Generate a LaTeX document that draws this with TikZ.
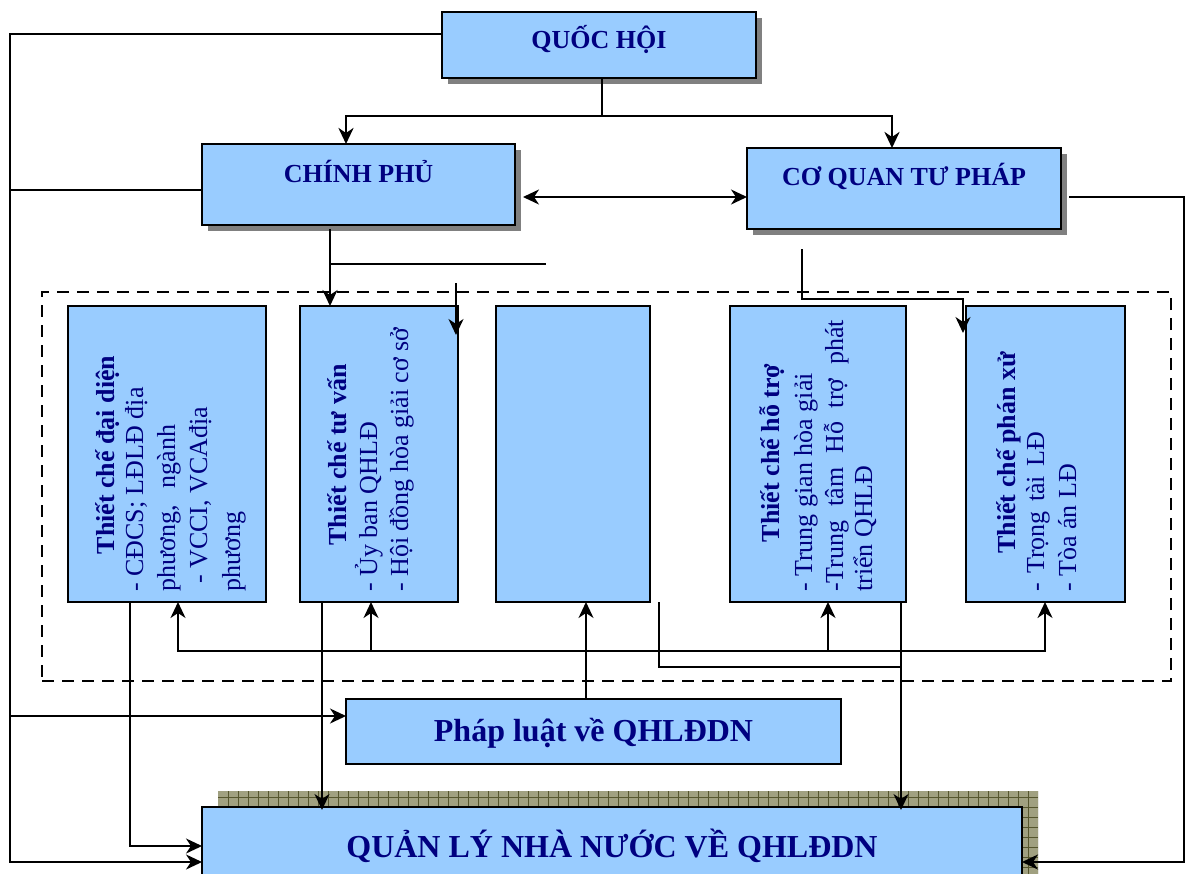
\documentclass[tikz,border=0pt]{standalone}
\usepackage{fontspec}
\setmainfont{Liberation Serif}
\usetikzlibrary{arrows.meta,calc}
\definecolor{navy}{RGB}{0,0,128}
\definecolor{boxblue}{RGB}{153,204,255}
\definecolor{shd}{RGB}{128,128,128}
\definecolor{hatchbg}{RGB}{160,160,128}
\definecolor{hatchln}{RGB}{85,85,45}
\begin{document}
\begin{tikzpicture}[x=1pt,y=-1pt,
  >={Stealth[length=16pt,width=15pt,inset=5pt]},
  box/.style={draw=black, fill=boxblue, line width=2pt, inner sep=0pt, outer sep=0pt, anchor=north west},
  topbox/.style={box, line width=2.6pt, preaction={fill=shd, transform canvas={shift={(6pt,-6pt)}}}},
  ttl/.style={text=navy, font=\bfseries\fontsize{26}{30}\selectfont, inner sep=0pt, anchor=base},
  bigttl/.style={ttl, font=\bfseries\fontsize{32}{36}\selectfont},
  rt/.style={rotate=90, text=navy, font=\fontsize{26}{32}\selectfont, inner sep=0pt, anchor=base west},
  rtt/.style={rt, font=\bfseries\fontsize{26}{32}\selectfont, anchor=base},
  ln/.style={draw=black, line width=2.2pt},
  thk/.style={draw=black, line width=2.8pt},
  thn/.style={draw=black, line width=1.7pt},
  grpframe/.style={draw=black, line width=2.2pt, dash pattern=on 12pt off 8pt, inner sep=0pt, outer sep=0pt, anchor=north west}
]
\useasboundingbox (0,0) rectangle (1186,873);
\clip (0,0) rectangle (1186,873);

% dashed group frame
\node[grpframe, minimum width=1129pt, minimum height=389pt] (grp) at (42,292) {};

% top boxes
\node[topbox, minimum width=314pt, minimum height=66pt] (qh) at (442,12) {};
\node[topbox, minimum width=313pt, minimum height=81pt] (cp) at (202,144) {};
\node[topbox, minimum width=314pt, minimum height=81pt] (cq) at (747,148) {};
\node[ttl] (qht) at (599,48) {QUỐC HỘI};
\node[ttl] (cpt) at (358.5,182) {CHÍNH PHỦ};
\node[ttl] (cqt) at (904,185) {CƠ QUAN TƯ PHÁP};

% inner boxes
\node[box, minimum width=198pt, minimum height=296pt] (b1) at (68,306) {};
\node[box, minimum width=158pt, minimum height=296pt] (b2) at (300,306) {};
\node[box, minimum width=154pt, minimum height=296pt] (b3) at (496,306) {};
\node[box, minimum width=176pt, minimum height=296pt] (b4) at (730,306) {};
\node[box, minimum width=159pt, minimum height=296pt] (b5) at (966,306) {};

\node[rtt] (b1a) at (114,455) {Thiết chế đại diện};
\node[rt] (b1b) at (143,592) {- CĐCS; LĐLĐ địa};
\node[rt] (b1c) at (175,592) {\makebox[167pt][s]{phương, ngành}};
\node[rt] (b1d) at (207,584) {- VCCI, VCAđịa};
\node[rt] (b1e) at (240,592) {phương};

\node[rtt] (b2a) at (346,455) {Thiết chế tư vấn};
\node[rt] (b2b) at (377,592) {- Ủy ban QHLĐ};
\node[rt] (b2c) at (408,592) {- Hội đồng hòa giải cơ sở};

\node[rtt] (b4a) at (779,453) {Thiết chế hỗ trợ};
\node[rt] (b4b) at (812,592) {- Trung gian hòa giải};
\node[rt] (b4c) at (843,592) {\makebox[272pt][s]{-Trung tâm Hỗ trợ phát}};
\node[rt] (b4d) at (872,592) {triển QHLĐ};

\node[rtt] (b5a) at (1015,453) {Thiết chế phán xử};
\node[rt] (b5b) at (1044,592) {\makebox[160pt][s]{- Trọng tài LĐ}};
\node[rt] (b5c) at (1076,592) {- Tòa án LĐ};

% law box
\node[box, minimum width=495pt, minimum height=65pt] (pl) at (346,699) {};
\node[bigttl] (plt) at (593.5,741) {Pháp luật về QHLĐDN};

% hatched shadow of bottom box
\begin{scope}
  \clip (218,791) rectangle (1038,880);
  \fill[hatchbg] (218,791) rectangle (1038,880);
  \foreach \x in {228,238,...,1038} \draw[hatchln, line width=1pt] (\x,791) -- (\x,880);
  \foreach \y in {797,807,...,877} \draw[hatchln, line width=1pt] (218,\y) -- (1038,\y);
\end{scope}
\node[box, line width=2.6pt, minimum width=820pt, minimum height=93pt] (ql) at (202,807) {};
\node[bigttl] (qlt) at (612,857) {QUẢN LÝ NHÀ NƯỚC VỀ QHLĐDN};

% coordinates
\coordinate (LT) at (10,34);
\coordinate (LB) at (10,862);
\coordinate (RB) at (1184,862);
\coordinate (j1) at (602,116);
\coordinate (j3) at (330,264);
\coordinate (h264) at (546,264);
\coordinate (v456a) at (456,283);
\coordinate (v456b) at (456,335);
\coordinate (v802) at (802,249);
\coordinate (k1) at (802,299);
\coordinate (k2) at (963,333);
\coordinate (s1) at (659,602);
\coordinate (j2) at (901,667);
\coordinate (cpw) at ([yshift=-5.5pt]cp.west);
\coordinate (plw) at ([yshift=15.5pt]pl.west);

% connectors
\draw[thk] ([xshift=3pt]qh.south) -- (j1);
\draw[thk,->] (j1) -| ([xshift=-12.5pt]cp.north);
\draw[thk,->] (j1) -| ([xshift=-12pt]cq.north);

\draw[ln,->] ([yshift=11pt]qh.west) -| (LB) -- ([yshift=-8.5pt]ql.west);
\draw[ln] (cpw) -- (cpw -| LT);
\draw[ln,->] (plw -| LT) -- (plw);

\draw[ln,<->] ([xshift=8pt,yshift=-12.5pt]cp.east) -- ([yshift=-8.5pt]cq.west);
\draw[ln,->] ([xshift=8pt,yshift=-8.5pt]cq.east) -| (RB) -- ([yshift=-8.5pt]ql.east);

\draw[ln,->] ([xshift=-28.5pt,yshift=-4pt]cp.south) -- ([xshift=-49pt]b2.north);
\draw[thn] (j3) -- (h264);
\draw[ln,->] (v456a) -- (v456b);
\draw[thn,->] (v802) -- (k1) -| (k2);

\draw[ln,<->] ([xshift=11pt]b1.south) -- ++(0,49) -| ([xshift=-0.5pt]b5.south);
\draw[ln,<-] ([xshift=-8pt]b2.south) -- ++(0,49);
\draw[ln,<-] ([xshift=10pt]b4.south) -- ++(0,49);
\draw[ln,->] ([xshift=-7.5pt]pl.north) -- ([xshift=13pt]b3.south);

\draw[ln,->] ([xshift=-37pt]b1.south) |- ([yshift=7.5pt]ql.west);
\draw[ln,->] ([xshift=-57pt]b2.south) -- ([xshift=-290pt,yshift=-3pt]ql.north);
\draw[ln,->] ([xshift=83pt]b4.south) -- ([xshift=289pt,yshift=-3pt]ql.north);
\draw[ln] (s1) |- (j2);
\end{tikzpicture}
\end{document}
